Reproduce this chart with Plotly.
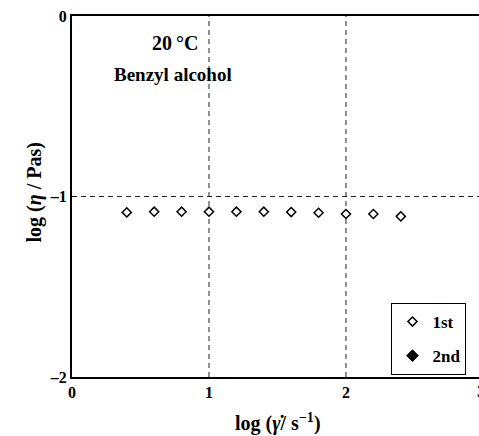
import plotly.graph_objects as go

log_rate = [0.4, 0.6, 0.8, 1.0, 1.2, 1.4, 1.6, 1.8, 2.0, 2.2, 2.4]
log_eta_1st = [-1.088, -1.084, -1.084, -1.084, -1.084, -1.084, -1.086, -1.090, -1.097, -1.097, -1.110]
x_ticks = [0, 1, 2, 3]
y_ticks = [0, -1, -2]
y_ticktext = ["0", "\u20131", "\u20132"]

FONT = "Liberation Serif"

fig = go.Figure()
fig.add_trace(go.Scatter(
    x=log_rate, y=log_eta_1st, mode="markers", name="<b>1st</b>", legendgroup="a",
    marker=dict(symbol="diamond", size=7, color="white", line=dict(color="black", width=1.5)),
))
fig.add_trace(go.Scatter(
    x=[None], y=[None], mode="markers", name="<b>2nd</b>", legendgroup="b",
    marker=dict(symbol="diamond", size=9, color="black", line=dict(color="black", width=1)),
))

grid_style = dict(color="#222", width=1, dash="5px,4px")
for xv in [1, 2]:
    fig.add_shape(type="line", xref="x", yref="y", x0=xv, x1=xv, y0=-2, y1=0, line=grid_style, layer="below")
fig.add_shape(type="line", xref="x", yref="y", x0=0, x1=3, y0=-1, y1=-1, line=grid_style, layer="below")

fig.update_layout(
    width=479, height=436,
    margin=dict(l=72, r=0, t=16, b=59),
    paper_bgcolor="white", plot_bgcolor="white",
    font=dict(family=FONT, size=16, color="black"),
    showlegend=True,
    legend=dict(
        x=0.785, y=0.205, xanchor="left", yanchor="top",
        bordercolor="black", borderwidth=1, bgcolor="white",
        font=dict(family=FONT, size=17, color="black"),
        tracegroupgap=9, itemwidth=30,
    ),
    xaxis=dict(
        range=[0, 2.971], tickvals=x_ticks[:3], ticktext=["<b>0</b>", "<b>1</b>", "<b>2</b>"],
        showgrid=False, zeroline=False, showline=True, linecolor="black", linewidth=2,
        mirror=True, ticks="", ticklen=0, tickfont=dict(size=16),
    ),
    yaxis=dict(
        range=[-2, 0], tickvals=y_ticks, ticktext=["<b>" + t + "</b>" for t in y_ticktext],
        showgrid=False, zeroline=False, showline=True, linecolor="black", linewidth=2,
        mirror=False, ticks="inside", ticklen=4, tickcolor="black", tickfont=dict(size=16),
    ),
    annotations=[
        dict(x=1.0, xref="paper", y=0, yref="paper", text="<b>3</b>", showarrow=False,
             xanchor="left", yanchor="top", xshift=-4, yshift=-4, font=dict(size=16)),
        dict(x=0.5, xref="paper", y=-0.085, yref="paper", yanchor="top",
             text="<b>log (<i>\u03b3\u0307</i>/ s<sup>\u22121</sup>)</b>", showarrow=False,
             font=dict(size=20), xshift=2),
        dict(x=-0.125, xref="paper", y=0.51, yref="paper", textangle=-90,
             text="<b>log (<i>\u03b7</i> / Pas)</b>", showarrow=False, font=dict(size=20)),
        dict(x=0.75, y=-0.15, xref="x", yref="y", text="<b>20\u2009\u00b0C</b>",
             showarrow=False, font=dict(size=20)),
        dict(x=0.74, y=-0.325, xref="x", yref="y", text="<b>Benzyl alcohol</b>",
             showarrow=False, font=dict(size=19)),
    ],
)

fig.write_html("out.html")
